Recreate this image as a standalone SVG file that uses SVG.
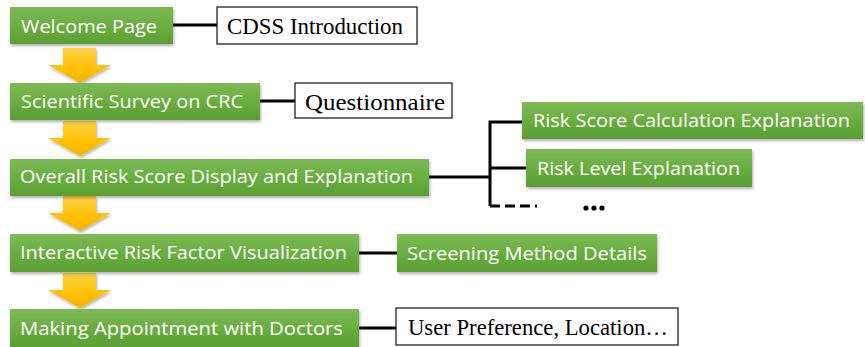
<svg xmlns="http://www.w3.org/2000/svg" width="865" height="347" viewBox="0 0 865 347">
<defs>
<linearGradient id="gGreen" x1="0" y1="0" x2="0" y2="1">
<stop offset="0" stop-color="#7dba56"/>
<stop offset="0.5" stop-color="#6aae40"/>
<stop offset="1" stop-color="#5b9f34"/>
</linearGradient>
<linearGradient id="gGold" x1="0" y1="0" x2="0" y2="1">
<stop offset="0" stop-color="#ffd24a"/>
<stop offset="0.6" stop-color="#ffc000"/>
<stop offset="1" stop-color="#f2b100"/>
</linearGradient>
<filter id="sh" x="-5%" y="-20%" width="110%" height="160%">
<feDropShadow dx="1" dy="2" stdDeviation="1.5" flood-color="#000" flood-opacity="0.3"/>
</filter>
<path id="arrow" d="M-17,0 H16 V17 H31 L0,35 L-32,17 H-17 Z"/>
</defs>
<style>
.g{fill:url(#gGreen);filter:url(#sh);}
.w{fill:#fff;stroke:#222;stroke-width:1.3;}
.gt{font-family:"Open Sans","Noto Sans","Liberation Sans",sans-serif;font-size:19px;fill:#fff;}
.st{font-family:"Liberation Serif","Times New Roman",serif;font-size:23.5px;fill:#000;}
.c{stroke:#000;stroke-width:3;fill:none;}
.ar{fill:url(#gGold);filter:url(#sh);}
</style>
<g id="arrows">
<use href="#arrow" class="ar" x="80" y="48"/>
<use href="#arrow" class="ar" x="80" y="121"/>
<use href="#arrow" class="ar" x="80" y="196"/>
<use href="#arrow" class="ar" x="80" y="273"/>
</g>
<g id="connectors">
<line class="c" x1="173" y1="25" x2="217" y2="25"/>
<line class="c" x1="260" y1="101" x2="295" y2="101"/>
<line class="c" x1="429" y1="177" x2="490" y2="177"/>
<path class="c" d="M522,122 H490 V206"/>
<line class="c" x1="490" y1="168" x2="526" y2="168"/>
<line class="c" x1="490" y1="206" x2="537" y2="206" stroke-dasharray="10,5"/>
<line class="c" x1="359" y1="253" x2="397" y2="253"/>
<line class="c" x1="359" y1="328" x2="396" y2="328"/>
</g>
<g id="welcome">
<rect class="g" x="10" y="7" width="163" height="37"/>
<text class="gt" x="21" y="33" textLength="136" lengthAdjust="spacingAndGlyphs">Welcome Page</text>
</g>
<g id="cdss">
<rect class="w" x="217" y="7" width="200" height="37"/>
<text class="st" x="227" y="34" textLength="176" lengthAdjust="spacingAndGlyphs">CDSS Introduction</text>
</g>
<g id="survey">
<rect class="g" x="10" y="83" width="250" height="37"/>
<text class="gt" x="21" y="108" textLength="222" lengthAdjust="spacingAndGlyphs">Scientific Survey on CRC</text>
</g>
<g id="questionnaire">
<rect class="w" x="295" y="83" width="157" height="35"/>
<text class="st" x="305" y="110" textLength="140" lengthAdjust="spacingAndGlyphs">Questionnaire</text>
</g>
<g id="overall">
<rect class="g" x="10" y="159" width="419" height="37"/>
<text class="gt" x="20" y="183" textLength="393" lengthAdjust="spacingAndGlyphs">Overall Risk Score Display and Explanation</text>
</g>
<g id="calc">
<rect class="g" x="522" y="102" width="341" height="37"/>
<text class="gt" x="533" y="127" textLength="317" lengthAdjust="spacingAndGlyphs">Risk Score Calculation Explanation</text>
</g>
<g id="level">
<rect class="g" x="526" y="149" width="226" height="38"/>
<text class="gt" x="537" y="175" textLength="203" lengthAdjust="spacingAndGlyphs">Risk Level Explanation</text>
</g>
<g id="more">
<circle cx="586" cy="208" r="2.6" fill="#000"/>
<circle cx="594" cy="208" r="2.6" fill="#000"/>
<circle cx="602" cy="208" r="2.6" fill="#000"/>
</g>
<g id="interactive">
<rect class="g" x="10" y="234" width="349" height="38"/>
<text class="gt" x="20" y="259" textLength="327" lengthAdjust="spacingAndGlyphs">Interactive Risk Factor Visualization</text>
</g>
<g id="screening">
<rect class="g" x="397" y="234" width="260" height="38"/>
<text class="gt" x="407" y="260" textLength="240" lengthAdjust="spacingAndGlyphs">Screening Method Details</text>
</g>
<g id="appointment">
<rect class="g" x="10" y="309" width="349" height="38"/>
<text class="gt" x="20" y="335" textLength="323" lengthAdjust="spacingAndGlyphs">Making Appointment with Doctors</text>
</g>
<g id="preference">
<rect class="w" x="396" y="308" width="282" height="37"/>
<text class="st" x="408" y="335" textLength="260" lengthAdjust="spacingAndGlyphs">User Preference, Location…</text>
</g>
</svg>
